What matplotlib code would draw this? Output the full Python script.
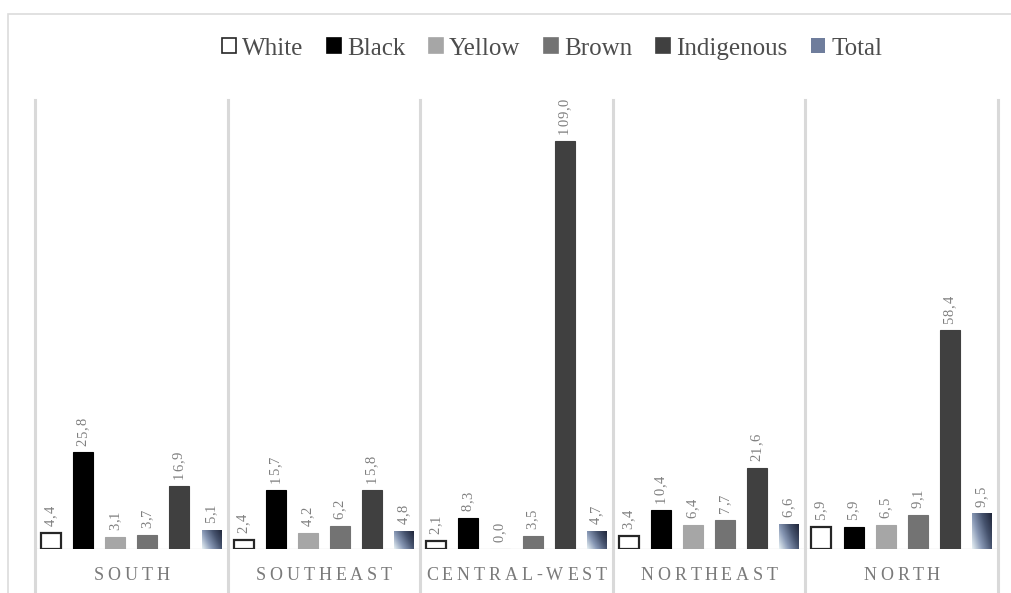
import numpy as np
import matplotlib
matplotlib.use("Agg")
import matplotlib.pyplot as plt
from matplotlib.patches import Patch, Rectangle
from matplotlib.lines import Line2D
from matplotlib.transforms import offset_copy
from matplotlib.font_manager import FontProperties
from matplotlib.textpath import text_to_path
from matplotlib.colors import LinearSegmentedColormap

regions = ["SOUTH", "SOUTHEAST", "CENTRAL-WEST", "NORTHEAST", "NORTH"]
groups = ["White", "Black", "Yellow", "Brown", "Indigenous", "Total"]

white = [4.4, 2.4, 2.1, 3.4, 5.9]
black = [25.8, 15.7, 8.3, 10.4, 5.9]
yellow = [3.1, 4.2, 0.0, 6.4, 6.5]
brown = [3.7, 6.2, 3.5, 7.7, 9.1]
indigenous = [16.9, 15.8, 109.0, 21.6, 58.4]
total = [5.1, 4.8, 4.7, 6.6, 9.5]

series = [white, black, yellow, brown, indigenous, total]
faces = ["white", "#000000", "#a6a6a6", "#737373", "#404040", None]
edges = ["#262626", "#000000", "#a6a6a6", "#737373", "#404040", "none"]

serif = ["Liberation Serif", "DejaVu Serif"]
plt.rcParams["font.family"] = serif

grad = LinearSegmentedColormap.from_list(
    "total", ["#e6f0f4", "#8797b4", "#46536e", "#20263a"])

fig = plt.figure(figsize=(10.11, 5.93), dpi=100)
ax = fig.add_axes([35 / 1011, 44 / 593, 963 / 1011, 449 / 593])
ax.set_xlim(-0.5, len(regions) - 0.5)
ax.set_ylim(0, 120)
ax.axis("off")


def spaced_text(x, y, s, size, spacing, color, rotation=0, dy0=0.0):
    """Draw text with extra letter spacing (points), centred on x for
    horizontal text, or starting at y (+dy0 points) for vertical text."""
    prop = FontProperties(family=serif, size=size)

    def width(t):
        if not t:
            return 0.0
        return text_to_path.get_text_width_height_descent(t, prop, ismath=False)[0]

    full = width(s) + spacing * (len(s) - 1)
    for i, ch in enumerate(s):
        adv = width(s[:i]) + spacing * i
        if rotation == 0:
            tr = offset_copy(ax.transData, fig=fig, x=adv - full / 2, y=0, units="points")
            ax.text(x, y, ch, transform=tr, fontproperties=prop, color=color,
                    ha="left", va="center", clip_on=False)
        else:
            tr = offset_copy(ax.transData, fig=fig, x=0, y=dy0 + adv, units="points")
            ax.text(x, y, ch, transform=tr, fontproperties=prop, color=color,
                    rotation=90, rotation_mode="anchor",
                    ha="left", va="center", clip_on=False)


n = len(groups)
slot = 1.0 / n
bar_w = slot * 0.62
xs = np.arange(len(regions))

for j, vals in enumerate(series):
    pos = xs + (j - (n - 1) / 2) * slot
    if faces[j] is None:
        # gradient-filled bars for the total
        bars = ax.bar(pos, vals, width=bar_w, color="none", edgecolor="none")
        yy, xx = np.mgrid[0:1:60j, 0:1:30j]
        for b in bars:
            h = b.get_height()
            if h <= 0:
                continue
            img = 0.65 * xx + 0.35 * yy
            im = ax.imshow(img, cmap=grad, origin="lower", aspect="auto",
                           extent=[b.get_x(), b.get_x() + b.get_width(), 0, h],
                           vmin=0, vmax=1, zorder=2)
            im.set_clip_path(b)
    else:
        ax.bar(pos, vals, width=bar_w, color=faces[j], edgecolor=edges[j],
               linewidth=1.6 if j == 0 else 0.8, zorder=2)
    for p, v in zip(pos, vals):
        spaced_text(p, v, f"{v:.1f}".replace(".", ","), 10.5, 0.5,
                    "#7f7f7f", rotation=90, dy0=5)

# separators between regions and baseline
for k in range(len(regions) + 1):
    ax.add_line(Line2D([k - 0.5, k - 0.5], [-0.12, 1.0], color="#d9d9d9",
                       linewidth=2.2, transform=ax.get_xaxis_transform(),
                       clip_on=False, zorder=1))
ax.axhline(0, color="#e3e3e3", linewidth=1.0, zorder=1)

for k, name in enumerate(regions):
    spaced_text(k, -7.0, name, 13, 2.8, "#7a7a7a")

# chart border
fig.add_artist(Rectangle((8 / 1011, -0.01), 1.0, 1 - 14 / 593 + 0.01,
                         transform=fig.transFigure, fill=False,
                         edgecolor="#dcdcdc", linewidth=1.2))

handles = [Patch(facecolor=faces[j], edgecolor=edges[j], linewidth=1.2)
           for j in range(n - 1)]
handles.append(Patch(facecolor="#6f7d9c", edgecolor="none"))
fig.legend(handles, groups, loc="center", bbox_to_anchor=(0.546, 0.918),
           ncol=n, frameon=False, fontsize=18, handlelength=0.55,
           handleheight=0.55, handletextpad=0.25, columnspacing=0.95,
           labelcolor="#4d4d4d")

fig.savefig("out.png", dpi=100, facecolor="white")
